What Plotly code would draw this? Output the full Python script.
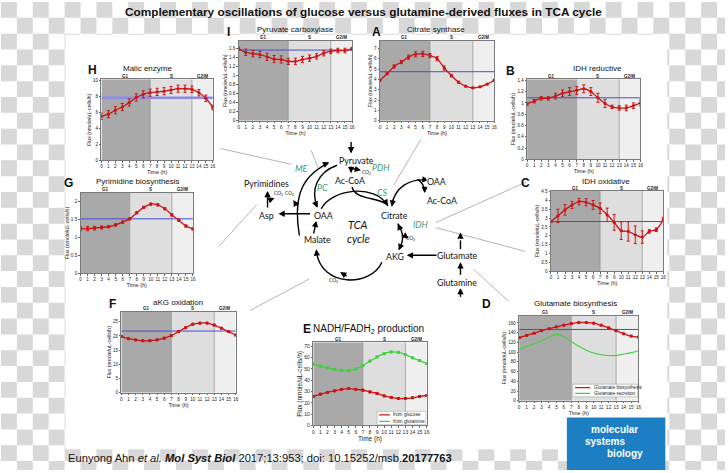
import math
import plotly.graph_objects as go

W, H = 728, 473

# ---------------- data ----------------
hours = list(range(17))
phase_names = ["G1", "S", "G2/M"]
phase_bounds = [0, 7, 13, 16]

pc_flux = [1.60, 1.52, 1.49, 1.47, 1.42, 1.37, 1.36, 1.32, 1.32, 1.36, 1.39, 1.43, 1.50, 1.54, 1.56, 1.56, 1.60]
pc_err = [0.03, 0.07, 0.07, 0.07, 0.08, 0.08, 0.08, 0.07, 0.07, 0.07, 0.07, 0.06, 0.06, 0.05, 0.05, 0.05, 0.03]
pc_mean = 1.57

cs_flux = [3.90, 4.55, 5.25, 5.67, 6.15, 6.43, 6.46, 6.30, 6.00, 5.10, 4.36, 3.73, 3.34, 3.18, 3.28, 3.54, 3.92]
cs_err = [0.08, 0.10, 0.15, 0.15, 0.20, 0.25, 0.25, 0.20, 0.20, 0.20, 0.12, 0.08, 0.06, 0.06, 0.06, 0.06, 0.06]
cs_mean = 4.74

me_flux = [5.54, 5.80, 6.30, 6.70, 7.27, 7.90, 8.30, 8.50, 8.60, 8.68, 8.84, 9.00, 9.00, 8.93, 8.50, 7.80, 6.65]
me_err = [0.40, 0.45, 0.45, 0.45, 0.45, 0.45, 0.45, 0.45, 0.45, 0.45, 0.45, 0.45, 0.45, 0.40, 0.40, 0.40, 0.30]
me_mean = 7.85

idhr_flux = [0.98, 1.03, 1.08, 1.08, 1.12, 1.17, 1.20, 1.22, 1.25, 1.20, 1.09, 0.99, 0.93, 0.91, 0.91, 0.95, 1.00]
idhr_err = [0.03, 0.03, 0.03, 0.03, 0.05, 0.06, 0.07, 0.07, 0.07, 0.07, 0.08, 0.07, 0.03, 0.04, 0.05, 0.05, 0.05]
idhr_mean = 1.09

pyr_flux = [1.24, 1.24, 1.25, 1.27, 1.29, 1.34, 1.42, 1.51, 1.68, 1.83, 1.92, 1.90, 1.79, 1.62, 1.47, 1.31, 1.23]
pyr_err = [0.05, 0.06, 0.05, 0.04, 0.03, 0.03, 0.03, 0.03, 0.03, 0.03, 0.03, 0.03, 0.03, 0.03, 0.03, 0.03, 0.03]
pyr_mean = 1.51

idho_flux = [2.81, 3.13, 3.47, 3.75, 3.94, 3.90, 3.75, 3.56, 3.19, 2.76, 2.29, 2.25, 2.06, 1.93, 2.25, 2.35, 2.95]
idho_err = [0.05, 0.38, 0.30, 0.20, 0.18, 0.20, 0.25, 0.30, 0.38, 0.45, 0.50, 0.55, 0.50, 0.35, 0.10, 0.10, 0.10]
idho_mean = 2.81

akg_flux = [19.8, 19.0, 18.6, 18.3, 18.3, 18.6, 19.2, 20.1, 21.5, 22.9, 24.1, 24.5, 24.5, 23.8, 22.7, 21.5, 20.3]
akg_err = [0.3, 0.3, 0.3, 0.3, 0.3, 0.3, 0.3, 0.3, 0.3, 0.3, 0.3, 0.3, 0.3, 0.3, 0.3, 0.3, 0.3]
akg_mean = 21.7

nadh_gln = [54.5, 52.5, 51.0, 49.6, 48.7, 48.7, 50.0, 53.0, 57.0, 60.6, 63.5, 65.0, 64.7, 62.7, 59.8, 57.4, 54.8]
nadh_gln_err = [0.8, 0.8, 0.8, 0.8, 0.8, 0.8, 0.8, 0.8, 0.8, 0.8, 0.8, 0.8, 0.8, 0.8, 0.8, 0.8, 0.8]
nadh_glc = [25.7, 27.7, 29.2, 30.6, 32.0, 32.6, 32.0, 31.2, 29.7, 28.3, 26.2, 24.8, 23.9, 23.9, 24.5, 25.7, 26.5]
nadh_glc_err = [0.8, 0.8, 0.8, 0.8, 0.8, 0.8, 0.8, 0.8, 0.8, 0.8, 0.8, 0.8, 0.8, 0.8, 0.8, 0.8, 0.8]

glu_bio = [129.7, 134.5, 139.0, 144.0, 148.0, 152.0, 155.4, 158.8, 160.8, 160.8, 159.5, 155.4, 150.0, 144.0, 137.8, 133.0, 131.0]
glu_bio_err = [1.5, 1.5, 1.5, 1.5, 1.5, 1.5, 1.5, 1.5, 1.5, 1.5, 1.5, 1.5, 1.5, 1.5, 1.5, 1.5, 1.5]
glu_sec = [106.0, 111.5, 117.0, 123.0, 130.6, 136.5, 132.0, 121.6, 112.0, 104.0, 98.0, 94.6, 93.0, 93.0, 96.0, 99.0, 103.0]
glu_mean = 146.6

RED = "#cc1414"
GREEN = "#3fd13f"
BLUE = "#4a4ad4"

# ---------------- layout helpers ----------------
def P(x, y):
    return f"{x / W:.5f},{1 - y / H:.5f}"

def fx(x):
    return x / W

def fy(y):
    return 1 - y / H

SANS = "Liberation Sans, Arial"
DIAG = "Lato, Noto Sans"

panels = [
    dict(letter="I", title="Pyruvate carboxylase", box=(239, 353, 39, 120), ymax=1.78, dtick=0.2,
         lpos=(229, 30), tpos=(296, 28),
         series=[(pc_flux, pc_err, RED, True)], mean=pc_mean),
    dict(letter="A", title="Citrate synthase", box=(381, 496, 39, 120), ymax=7.75, dtick=1,
         lpos=(378, 30), tpos=(437, 28),
         series=[(cs_flux, cs_err, RED, True)], mean=cs_mean),
    dict(letter="H", title="Malic enzyme", box=(101, 213, 78, 160), ymax=10.2, dtick=2,
         lpos=(92, 69), tpos=(147, 67),
         series=[(me_flux, me_err, RED, True)], mean=me_mean, thickmean=True),
    dict(letter="B", title="IDH reductive", box=(529, 643, 78, 159), ymax=1.42, dtick=0.2,
         lpos=(512, 70), tpos=(600, 67),
         series=[(idhr_flux, idhr_err, RED, True)], mean=idhr_mean),
    dict(letter="G", title="Pyrimidine biosynthesis", box=(80, 193, 193, 274), ymax=2.23, dtick=0.5,
         lpos=(68, 183), tpos=(138, 181),
         series=[(pyr_flux, pyr_err, RED, True)], mean=pyr_mean),
    dict(letter="C", title="IDH oxidative", box=(553, 666, 191, 272), ymax=4.54, dtick=0.5,
         lpos=(527, 183), tpos=(608, 181),
         series=[(idho_flux, idho_err, RED, True)], mean=idho_mean),
    dict(letter="F", title="aKG oxidation", box=(121, 236, 313, 395), ymax=28.5, dtick=5,
         lpos=(112, 305), tpos=(178, 304),
         series=[(akg_flux, akg_err, RED, True)], mean=akg_mean),
    dict(letter="E", title="NADH/FADH<sub>2</sub> production", box=(314, 428, 344, 428), ymax=73.5, dtick=10,
         lpos=(308, 330), tpos=(370, 330), big=True,
         series=[(nadh_glc, nadh_glc_err, RED, True), (nadh_gln, nadh_gln_err, GREEN, True)], mean=None),
    dict(letter="D", title="Glutamate biosynthesis", box=(521, 641, 317, 403), ymax=175, dtick=20,
         lpos=(488, 305), tpos=(578, 305),
         series=[(glu_bio, glu_bio_err, RED, True), (glu_sec, None, GREEN, False)], mean=glu_mean),
]

phase_colors = ["#a9a9a9", "#dedede", "#efefef"]

fig = go.Figure()
shapes = []
annotations = []
layout_axes = {}


def note(x, y, text, size, family=SANS, color="#111", xref="paper", yref="paper", xanchor="center", **kw):
    xv = fx(x) if xref == "paper" else x
    yv = fy(y) if yref == "paper" else y
    annotations.append(dict(xref=xref, yref=yref, x=xv, y=yv, text=text, showarrow=False,
                            xanchor=xanchor, yanchor="middle",
                            font=dict(size=size, family=family, color=color), **kw))


# ---------------- background checkerboard & white panel ----------------
s = 16
parts = []
for r in range(math.ceil(H / s)):
    for c in range(math.ceil(W / s)):
        if (r + c) % 2 == 0:
            x0, y0 = c * s, r * s
            x1, y1 = min(W, x0 + s), min(H, y0 + s)
            if x0 >= 65 and x1 <= 670 and y0 >= 33 and y1 <= 452:
                continue
            parts.append(f"M{P(x0, y0)}L{P(x1, y0)}L{P(x1, y1)}L{P(x0, y1)}Z")
shapes.append(dict(type="path", xref="paper", yref="paper", path="".join(parts),
                   fillcolor="#d8d8d8", line=dict(width=0), layer="below"))
shapes.append(dict(type="rect", xref="paper", yref="paper", x0=fx(65), x1=fx(670), y0=fy(452), y1=fy(33),
                   fillcolor="white", line=dict(width=0), layer="below"))

# ---------------- subplots ----------------
for i, p in enumerate(panels):
    n = "" if i == 0 else str(i + 1)
    xid, yid = "x" + n, "y" + n
    x0, x1, y0, y1 = p["box"]
    big = p.get("big", False)
    layout_axes["xaxis" + n] = dict(
        domain=[fx(x0), fx(x1)], range=[0, 16], anchor=yid,
        tickmode="array", tickvals=hours, ticktext=[str(h) for h in hours], tickangle=0,
        tickfont=dict(size=5 if big else 4.6, family=SANS, color="#222"),
        ticks="outside", ticklen=1.5, tickwidth=0.5, tickcolor="#666",
        showline=True, mirror=True, linecolor="#7a7a7a", linewidth=0.8,
        showgrid=False, zeroline=False,
        title=dict(text="Time (h)", font=dict(size=6.5 if big else 5.5, family=SANS, color="#222"), standoff=0),
    )
    layout_axes["yaxis" + n] = dict(
        domain=[fy(y1), fy(y0)], range=[0, p["ymax"]], anchor=xid, dtick=p["dtick"], tick0=0,
        tickfont=dict(size=5 if big else 4.6, family=SANS, color="#222"),
        ticks="outside", ticklen=1.5, tickwidth=0.5, tickcolor="#666",
        showline=True, mirror=True, linecolor="#7a7a7a", linewidth=0.8,
        showgrid=False, zeroline=False,
        title=dict(text="Flux (nmole/uL-cells/h)", font=dict(size=6.5 if big else 5.2, family=SANS, color="#222"), standoff=1),
    )
    # phase shading
    for k in range(3):
        shapes.append(dict(type="rect", xref=xid, yref=yid, x0=phase_bounds[k], x1=phase_bounds[k + 1],
                           y0=0, y1=p["ymax"], fillcolor=phase_colors[k], line=dict(width=0), layer="below"))
        annotations.append(dict(xref=xid, yref="paper", x=(phase_bounds[k] + phase_bounds[k + 1]) / 2,
                                y=fy(y0 - 3), text=f"<b>{phase_names[k]}</b>", showarrow=False,
                                xanchor="center", yanchor="middle",
                                font=dict(size=4.5, family=SANS, color="#222")))
    for b in (7, 13):
        shapes.append(dict(type="line", xref=xid, yref=yid, x0=b, x1=b, y0=0, y1=p["ymax"],
                           line=dict(color="#8c8c8c", width=0.7), layer="below"))
    # mean line
    if p["mean"] is not None:
        thick = p.get("thickmean", False)
        fig.add_trace(go.Scatter(x=[0, 16], y=[p["mean"], p["mean"]], mode="lines", xaxis=xid, yaxis=yid,
                                 line=dict(color="#8c8ce8" if thick else BLUE, width=2.5 if thick else 1),
                                 hoverinfo="skip"))
    for vals, errs, col, mk in p["series"]:
        fig.add_trace(go.Scatter(
            x=hours, y=vals, xaxis=xid, yaxis=yid,
            mode="lines+markers" if mk else "lines",
            line=dict(color=col, width=1.3 if mk else 1.1, shape="spline"),
            marker=dict(size=3.2, color=col),
            error_y=dict(type="data", array=errs, color=col, thickness=1, width=1.5) if errs else None,
        ))
    # title & letter
    note(p["tpos"][0], p["tpos"][1], p["title"], 10 if big else 8)
    note(p["lpos"][0], p["lpos"][1], f"<b>{p['letter']}</b>", 12)

# ---------------- manual legends ----------------
# E (axis 8)
shapes.append(dict(type="rect", xref="x8", yref="y8", x0=9.0, x1=15.9, y0=0.6, y1=12.5,
                   fillcolor="white", line=dict(color="#999", width=0.5)))
shapes.append(dict(type="line", xref="x8", yref="y8", x0=9.3, x1=10.8, y0=9.3, y1=9.3, line=dict(color=RED, width=1.2)))
shapes.append(dict(type="line", xref="x8", yref="y8", x0=9.3, x1=10.8, y0=3.7, y1=3.7, line=dict(color=GREEN, width=1.2)))
note(11.0, 9.3, "from glucose", 4.8, xref="x8", yref="y8", xanchor="left", color="#222")
note(11.0, 3.7, "from glutamine", 4.8, xref="x8", yref="y8", xanchor="left", color="#222")
# D (axis 9)
shapes.append(dict(type="rect", xref="x9", yref="y9", x0=7.2, x1=15.9, y0=8, y1=34,
                   fillcolor="white", line=dict(color="#999", width=0.5)))
shapes.append(dict(type="line", xref="x9", yref="y9", x0=7.5, x1=9.5, y0=27, y1=27, line=dict(color=RED, width=1.2)))
shapes.append(dict(type="line", xref="x9", yref="y9", x0=7.5, x1=9.5, y0=15, y1=15, line=dict(color=GREEN, width=1.2)))
note(9.8, 27, "Glutamate biosynthesis", 4.6, xref="x9", yref="y9", xanchor="left", color="#222")
note(9.8, 15, "Glutamate secretion", 4.6, xref="x9", yref="y9", xanchor="left", color="#222")

# ---------------- connector lines ----------------
for (a, b, c, d) in [(220, 148, 292, 164), (312, 150, 319, 168), (422, 139, 395, 185),
                     (528, 182, 437, 223), (437, 228, 527, 252), (257, 205, 219, 247),
                     (310, 280, 250, 312), (475, 270, 510, 302)]:
    shapes.append(dict(type="line", xref="paper", yref="paper", x0=fx(a), y0=fy(b), x1=fx(c), y1=fy(d),
                       line=dict(color="#b4b4b4", width=1)))

# ---------------- TCA diagram ----------------
LW = 1.4

def arrow(x0, y0, x1, y1, w=LW):
    annotations.append(dict(xref="paper", yref="paper", x=fx(x1), y=fy(y1), ax=x0 - x1, ay=y0 - y1,
                            text="", showarrow=True, arrowhead=2, arrowsize=0.9, arrowwidth=w,
                            arrowcolor="black", standoff=0, startstandoff=0))

def head(x, y, dx, dy):
    L = math.hypot(dx, dy)
    arrow(x - dx / L * 4, y - dy / L * 4, x, y)

def curve(d, dash=None):
    shapes.append(dict(type="path", xref="paper", yref="paper", path=d,
                       line=dict(color="black", width=LW, dash=dash or "solid"), layer="above"))

# top arc OAA -> Citrate
curve(f"M{P(322, 209)} C{P(332, 189)} {P(376, 183)} {P(389, 206)}")
head(389, 206, 0.5, 0.85)
# Ac-CoA joining
curve(f"M{P(353, 187)} C{P(356, 200)} {P(378, 197)} {P(387, 204)}")
# citrate <-> AKG
curve(f"M{P(399, 224)} Q{P(408, 238)} {P(400, 250)}")
head(399, 224, -0.45, -1)
head(400, 251, -0.4, 1)
arrow(404, 235, 410, 239)
# AKG -> Malate (bottom arc)
curve(f"M{P(383, 263)} C{P(372, 288)} {P(322, 289)} {P(317, 252)}")
head(317, 250, -0.1, -1)
arrow(349, 278, 341, 273)
# Malate -> OAA
arrow(314, 236, 317, 221)
# ME: Malate -> Pyruvate
curve(f"M{P(300, 236)} C{P(295, 205)} {P(297, 178)} {P(329, 163)}")
head(330, 162, 0.9, -0.42)
arrow(298, 207, 294, 200)
# PC: Pyruvate -> OAA
curve(f"M{P(338, 165)} C{P(318, 172)} {P(311, 190)} {P(318, 207)}")
head(318, 208, 0.35, 0.95)
# Pyruvate in, PDH
arrow(352, 140, 352, 153)
arrow(352, 164, 352, 173)
arrow(352, 168, 362, 170)
# Asp, pyrimidines
arrow(312, 214, 279, 214)
arrow(268, 209, 268, 191)
arrow(268, 201, 275, 198)
# citrate <-> OAA/AcCoA right
curve(f"M{P(393, 205)} C{P(396, 188)} {P(410, 178)} {P(429, 180)}")
head(393, 207, -0.15, 1)
head(430, 180, 1, 0.1)
curve(f"M{P(419, 179)} Q{P(426, 184)} {P(426, 192)}")
head(426, 193, 0, 1)
# glutamate / glutamine
arrow(440, 256, 408, 256)
arrow(462, 277, 462, 263)
curve(f"M{P(462, 250)} L{P(462, 236)}", dash="dash")
head(462, 233, 0, -1)
curve(f"M{P(462, 298)} L{P(462, 292)}", dash="dash")
head(462, 289, 0, -1)

for txt, x, y in [("Pyruvate", 357, 160), ("Ac-CoA", 351, 180), ("Pyrimidines", 267, 183), ("Asp", 267, 216),
                  ("OAA", 324, 216), ("Malate", 318, 240), ("Citrate", 396, 216), ("OAA", 438, 181),
                  ("Ac-CoA", 443, 201), ("AKG", 396, 257), ("Glutamate", 459, 256), ("Glutamine", 459, 283)]:
    note(x, y, txt, 8.8, family=DIAG, bgcolor="white", borderpad=0)
for txt, x, y in [("ME", 302, 168), ("PC", 323, 187), ("PDH", 382, 167), ("CS", 383, 193), ("IDH", 422, 225)]:
    note(x, y, f"<i>{txt}</i>", 8.8, family=DIAG, color="#3a9d6f")
for x, y in [(368, 172), (279, 194), (290, 194), (412, 239), (334, 281)]:
    note(x, y, "CO<sub>2</sub>", 4.8, family=DIAG)
note(359, 225, "<i>TCA</i>", 11, family=DIAG)
note(359, 239, "<i>cycle</i>", 11, family=DIAG)

# ---------------- title, citation, logo ----------------
note(364, 10, "<b>Complementary oscillations of glucose versus glutamine-derived fluxes in TCA cycle</b>", 11.8)
note(65, 461, "Eunyong Ahn <i>et al.</i> <b><i>Mol Syst Biol</i></b> 2017;13:953; doi: 10.15252/msb.<b>20177763</b>",
     11.2, xanchor="left")
shapes.append(dict(type="rect", xref="paper", yref="paper", x0=fx(569), x1=fx(668), y0=fy(473), y1=fy(420),
                   fillcolor="#1c7fc3", line=dict(width=0)))
for txt, x, y in [("molecular", 617, 432), ("systems", 607, 444), ("biology", 627, 456)]:
    note(x, y, f"<b>{txt}</b>", 10, color="white")

fig.update_layout(
    width=W, height=H, margin=dict(l=0, r=0, t=0, b=0),
    paper_bgcolor="white", plot_bgcolor="rgba(0,0,0,0)",
    showlegend=False, shapes=shapes, annotations=annotations,
    **layout_axes,
)

fig.write_html("out.html")
